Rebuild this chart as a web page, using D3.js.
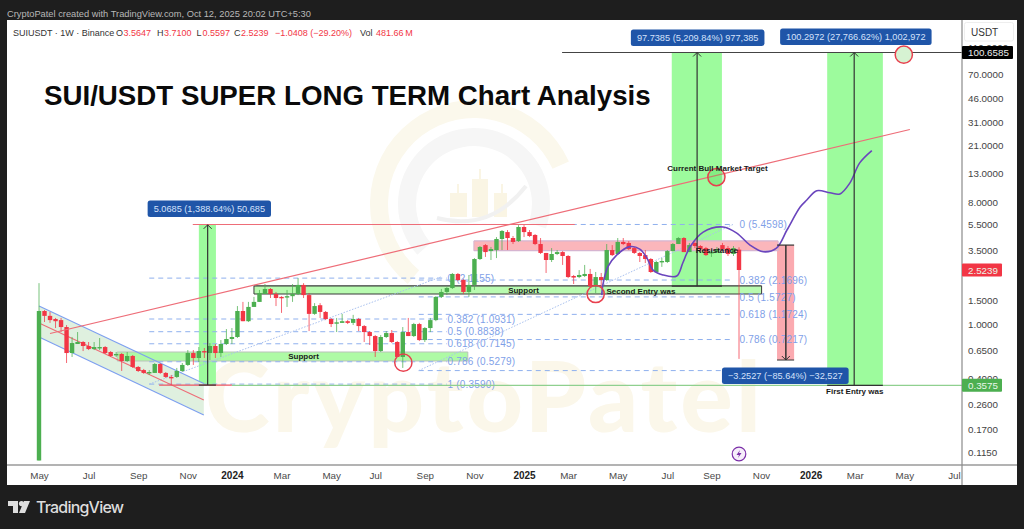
<!DOCTYPE html>
<html><head><meta charset="utf-8">
<script src="https://cdnjs.cloudflare.com/ajax/libs/d3/7.8.5/d3.min.js"></script>
<style>html,body{margin:0;padding:0;background:#1e1e1e;overflow:hidden}svg{display:block}text{font-family:"Liberation Sans",Arial,sans-serif}</style>
</head><body><svg id="c" width="1024" height="529"></svg>
<script>
// ---- OHLC read from the weekly candles (bar 0 = week of 1 May 2023) ----
const opens=[0.10,1.26,1.16,1.10,1.08,0.960,0.618,0.720,0.745,0.696,0.661,0.673,0.684,0.629,0.598,0.608,0.540,0.588,0.488,0.463,0.441,0.441,0.513,0.441,0.412,0.412,0.456,0.505,0.618,0.568,0.639,0.618,0.696,0.618,0.720,0.784,0.811,1.26,1.06,1.35,1.47,1.68,1.83,1.68,1.60,1.60,1.62,1.68,1.96,1.65,1.20,1.39,1.24,1.10,1.02,1.03,1.06,1.03,1.10,0.976,0.882,0.824,0.639,0.811,0.867,0.745,0.578,0.882,0.824,1.01,0.770,0.944,1.08,1.60,1.74,1.86,2.36,2.13,1.74,1.96,3.04,3.85,3.48,3.54,4.27,4.80,4.34,4.12,5.23,4.80,4.57,3.92,3.37,2.99,3.31,3.42,3.20,2.28,2.24,2.28,2.36,1.92,2.24,2.13,3.54,3.31,4.06,3.99,3.66,3.37,3.25,3.04,2.44,2.89,2.89,3.48,3.92,4.34,3.42,3.99,3.79,3.66,3.37,3.42,3.85,3.66,3.31,3.5647];
const highs=[2.02,1.28,1.24,1.12,1.12,0.993,0.811,0.882,0.757,0.745,0.745,0.797,0.696,0.639,0.629,0.618,0.629,0.598,0.496,0.472,0.463,0.522,0.522,0.448,0.426,0.480,0.522,0.650,0.650,0.684,0.673,0.732,0.720,0.770,0.928,0.944,1.37,1.47,1.47,1.60,1.80,1.99,1.86,1.74,1.62,1.80,1.99,2.20,2.02,1.71,1.44,1.44,1.26,1.12,1.12,1.20,1.08,1.18,1.12,0.993,0.897,0.838,0.838,0.897,0.913,0.757,0.960,1.12,1.03,1.03,0.960,1.12,1.62,1.83,1.89,2.40,2.40,2.17,2.32,3.09,3.79,3.92,3.73,4.41,4.97,4.97,4.49,5.40,5.40,4.97,4.64,4.34,3.37,3.66,3.54,3.48,3.25,2.32,2.52,2.75,2.57,2.44,2.40,3.92,3.85,4.34,4.34,4.12,3.73,3.42,3.54,3.09,2.94,3.09,3.54,3.99,4.41,4.41,3.99,4.20,3.85,3.73,3.54,3.73,3.99,3.79,3.79,3.71];
const lows=[0.10,1.045,1.03,0.944,0.882,0.522,0.578,0.720,0.639,0.650,0.650,0.650,0.608,0.578,0.578,0.456,0.531,0.480,0.448,0.434,0.426,0.441,0.434,0.405,0.359,0.405,0.448,0.496,0.505,0.531,0.568,0.549,0.568,0.578,0.708,0.720,0.797,1.06,1.045,1.35,1.47,1.68,1.57,1.37,1.22,1.35,1.47,1.65,1.57,0.897,1.18,1.12,1.08,0.960,0.882,1.03,1.01,0.993,0.897,0.745,0.708,0.578,0.629,0.797,0.732,0.578,0.480,0.824,0.811,0.757,0.745,0.882,1.06,1.57,1.65,1.83,2.09,1.68,1.60,1.80,2.99,3.15,2.99,3.09,3.54,3.54,3.92,4.06,4.41,4.41,3.85,3.31,2.40,2.89,3.25,2.75,2.20,1.99,2.20,2.24,1.89,1.71,1.89,2.09,3.20,3.25,3.85,3.54,3.31,2.89,2.84,2.40,2.40,2.66,2.84,3.48,3.92,3.42,3.42,3.66,3.42,3.20,3.15,3.37,3.54,3.20,3.20,0.5597];
const closes=[1.26,1.16,1.08,1.06,0.960,0.618,0.732,0.745,0.696,0.661,0.684,0.684,0.618,0.588,0.608,0.540,0.588,0.488,0.456,0.441,0.448,0.513,0.441,0.412,0.405,0.456,0.505,0.618,0.568,0.639,0.624,0.696,0.618,0.720,0.784,0.811,1.26,1.06,1.35,1.47,1.71,1.83,1.68,1.57,1.57,1.62,1.68,1.96,1.65,1.20,1.37,1.24,1.10,1.01,1.04,1.06,1.03,1.10,0.976,0.882,0.824,0.639,0.811,0.867,0.745,0.578,0.882,0.824,1.01,0.770,0.944,1.08,1.60,1.74,1.86,2.36,2.13,1.74,1.96,3.04,3.73,3.42,3.60,4.27,4.89,4.34,4.06,5.23,4.80,4.49,3.92,3.37,2.99,3.31,3.42,3.20,2.24,2.22,2.32,2.36,1.92,2.24,2.13,3.54,3.25,4.06,3.92,3.60,3.37,3.20,3.04,2.44,2.89,2.94,3.48,3.92,4.34,3.42,3.85,3.79,3.60,3.25,3.42,3.60,3.60,3.31,3.66,2.5239];

// ---- axes ----
const xTickBars=[0,9,18,27,35,44,53,61,70,79,88,96,105,114,122,131,140,148,157,166];
const xTickLabels=["May","Jul","Sep","Nov","2024","Mar","May","Jul","Sep","Nov","2025","Mar","May","Jul","Sep","Nov","2026","Mar","May","Jul"];
const yTicks=[110,70,46,31,21,13,8,5.5,3.5,2.5,1.5,1,0.65,0.4,0.26,0.17,0.115];

// ---- drawings, in [bar, price] ----
const trendLine=[[2,0.86],[158,27.3]];
const channelUpper=[[0,1.37],[29.9,0.368]];
const channelMid=[[0,1.03],[29.9,0.279]];
const channelLower=[[0,0.81],[29.9,0.216]];
const forecastCurve=[[102.1,1.65],[102.3,1.96],[103.2,2.66],[104.8,3.25],[107.2,3.75],[109,3.6],[110.3,3.09],[111.4,2.52],[113.2,2.32],[115.7,2.28],[116.8,2.84],[118.1,3.73],[120.5,4.8],[124.1,5.23],[126.6,4.72],[129,3.85],[131.4,3.44],[133.8,3.66],[135.7,4.97],[138.1,7.34],[139.3,8.26],[141.1,9.67],[143.5,9.35],[145.3,9.15],[147.1,11],[148.9,15.5],[151.1,19.1]];
const fibLeft=[["0 (2.1155)",2.20],["0.382 (1.0931)",1.10],["0.5 (0.8838)",0.887],["0.618 (0.7145)",0.723],["0.786 (0.5279)",0.533],["1 (0.3590)",0.365]];
const fibLeftBars=[20,74];
const fibRight=[["0 (5.4598)",5.46],["0.382 (2.1696)",2.13],["0.5 (1.5727)",1.60],["0.618 (1.1724)",1.19],["0.786 (0.7217)",0.777],["",0.459]];
const fibRightBars=[68.9,125.9];
const dottedLines=[[[20,0.365],[73,2.25]],[[68.9,0.459],[125.9,5.46]]];
const measureZones=[
 {bars:[29,32.1],mid:30.6,lo:0.359,hi:5.4275,color:"#9dfb9d",down:false},
 {bars:[114.8,123.9],mid:119.4,lo:1.92,hi:100.66,color:"#9dfb9d",down:false},
 {bars:[143,153.1],mid:147.9,lo:0.3575,hi:100.66,color:"#9dfb9d",down:false},
 {bars:[133.9,137],mid:135.5,lo:0.549,hi:3.85,color:"#fbaab0",down:true}];
const measureLabels=[["5.0685 (1,388.64%) 50,685",30.9,7.15],["97.7385 (5,209.84%) 977,385",119.5,130],["100.2972 (27,766.62%) 1,002,972",148.2,132],["\u22123.2527 (\u221285.64%) \u221232,527",135.4,0.422]];
const boxes=[
 {bars:[14.2,77.8],hi:0.629,lo:0.540,fill:"#aefaa5",stroke:"#b9c2b9"},
 {bars:[39,131.1],hi:1.93,lo:1.68,fill:"#b8fbb0",stroke:"#3a3a3a"},
 {bars:[78.9,134.1],hi:4.13,lo:3.50,fill:"#fbb6bb",stroke:"#d6b4d0"}];
const circles=[[66.1,0.525,"none"],[101,1.68,"none"],[122.9,12.2,"rgba(60,200,60,.25)"],[156.9,97,"#d6f2d2"]];
const notes=[["Support",48,0.582],["Support",87.9,1.80],["Second Entry was",109.2,1.77],["Resistance",123,3.55],["Current Bull Market Target",123.1,14.1],["First Entry was",148,0.322]];
const hLines=[[[27.9,97.2],5.46,"#ee6d78"],[[21.8,35],0.359,"#ee5560"],[[35,167.5],0.3575,"#8fd08f"],[[94.9,167.5],100.66,"#444"]];
const priceTags=[[100.6585,"#000"],[2.5239,"#f23645"],[0.3575,"#4caf50"]];

const svg=d3.select("#c");
const x=d3.scaleLinear().domain([0,127]).range([39,739]);
const y=d3.scaleLog().domain([0.1,100]).range([460.5,52.9]);
const P=a=>[x(a[0]),y(a[1])];
const line=d3.line().x(d=>x(d[0])).y(d=>y(d[1]));

// frame
svg.append("rect").attr("x",7).attr("y",20).attr("width",1010).attr("height",465).attr("fill","#fff");
const clip=svg.append("clipPath").attr("id","plot").append("rect").attr("x",7).attr("y",20).attr("width",955).attr("height",445);
const plot=svg.append("g").attr("clip-path","url(#plot)");

// watermark
const wm=plot.append("g");
const arc=d3.arc();
wm.append("path").attr("transform","translate(474,204)").attr("fill","#fbf8ec")
  .attr("d",arc({innerRadius:86,outerRadius:104,startAngle:-2.45,endAngle:1.15}));
wm.append("path").attr("transform","translate(474,204)").attr("fill","#f6f6f6")
  .attr("d",arc({innerRadius:58,outerRadius:76,startAngle:-2.3,endAngle:1.9}));
wm.append("g").attr("fill","#faf5e4").selectAll("rect").data([[450,193,17,24],[472,179,16,38],[494,193,13,24],[457,184,2,10],[479,169,2,11],[501,184,2,10]]).join("rect")
  .attr("x",d=>d[0]).attr("y",d=>d[1]).attr("width",d=>d[2]).attr("height",d=>d[3]);
wm.append("path").attr("d","M437 218 Q490 232 526 186").attr("fill","none").attr("stroke","#f1f1f1").attr("stroke-width",4);
wm.append("text").attr("x",205).attr("y",432).text("CryptoPatel").attr("fill","#fbf7ea")
  .style("font-family","Lato,Roboto,sans-serif").style("font-weight",900).style("font-size","98px").attr("textLength",556);

// zones and boxes under candles
plot.append("g").selectAll("rect").data(measureZones).join("rect")
  .attr("x",d=>x(d.bars[0])).attr("width",d=>x(d.bars[1])-x(d.bars[0]))
  .attr("y",d=>y(d.hi)).attr("height",d=>y(d.lo)-y(d.hi)).attr("fill",d=>d.color);
plot.append("path").attr("fill","#dff0df")
  .attr("d",d3.line()([P(channelUpper[0]),P(channelUpper[1]),P(channelLower[1]),P(channelLower[0])])+"Z");
const bx=plot.append("g").selectAll("g").data(boxes).join("g");
bx.append("rect").attr("x",d=>x(d.bars[0])).attr("width",d=>x(d.bars[1])-x(d.bars[0]))
  .attr("y",d=>y(d.hi)).attr("height",d=>y(d.lo)-y(d.hi)).attr("fill",d=>d.fill);
bx.each(function(d){const g=d3.select(this);[d.hi,d.lo].forEach(p=>g.append("line").attr("x1",x(d.bars[0])).attr("x2",x(d.bars[1])).attr("y1",y(p)).attr("y2",y(p)).attr("stroke",d.stroke).attr("stroke-width",1.2));
 g.append("line").attr("x1",x(d.bars[0])).attr("x2",x(d.bars[0])).attr("y1",y(d.hi)).attr("y2",y(d.lo)).attr("stroke",d.stroke);
 g.append("line").attr("x1",x(d.bars[1])).attr("x2",x(d.bars[1])).attr("y1",y(d.hi)).attr("y2",y(d.lo)).attr("stroke",d.stroke);});

// fib levels
const fibCol="#8fb0ee";
function fib(levels,bars,labelBar){
  const g=plot.append("g");
  g.selectAll("line").data(levels).join("line").attr("x1",x(bars[0])).attr("x2",x(bars[1]))
   .attr("y1",d=>y(d[1])).attr("y2",d=>y(d[1])).attr("stroke",fibCol).attr("stroke-width",1).attr("stroke-dasharray","5 4");
  g.selectAll("text").data(levels).join("text").attr("x",x(labelBar)).attr("y",d=>y(d[1])).attr("dy","0.36em")
   .text(d=>d[0]).attr("fill","#7f9fe8").style("font-size","10px").style("letter-spacing","0.2px");
}
fib(fibLeft,fibLeftBars,74.1);
fib(fibRight,fibRightBars,127.1);
plot.append("g").selectAll("path").data(dottedLines).join("path").attr("d",d=>line(d)).attr("fill","none")
  .attr("stroke","#a9c1ef").attr("stroke-width",1).attr("stroke-dasharray","1.5 1.5");

// channel lines
[[channelUpper,"#7d9ff0"],[channelLower,"#7d9ff0"],[channelMid,"#ee6d78"]].forEach(l=>
  plot.append("path").attr("d",line(l[0])).attr("fill","none").attr("stroke",l[1]).attr("stroke-width",1.1));

// candles
const bars=d3.range(closes.length);
const candles=plot.append("g").selectAll("g").data(bars).join("g")
  .attr("fill",i=>closes[i]>=opens[i]?"#4caf50":"#f23645").attr("stroke",i=>closes[i]>=opens[i]?"#4caf50":"#f23645");
candles.append("line").attr("x1",i=>x(i)).attr("x2",i=>x(i)).attr("y1",i=>y(highs[i])).attr("y2",i=>y(lows[i])).attr("stroke-width",1).attr("stroke-opacity",.75);
candles.append("rect").attr("x",i=>x(i)-2.2).attr("width",4.4).attr("stroke","none")
  .attr("y",i=>y(Math.max(opens[i],closes[i]))).attr("height",i=>Math.max(1.4,Math.abs(y(opens[i])-y(closes[i]))));

// horizontal lines, trendline, curve
plot.append("g").selectAll("line").data(hLines).join("line").attr("x1",d=>x(d[0][0])).attr("x2",d=>x(d[0][1]))
  .attr("y1",d=>y(d[1])).attr("y2",d=>y(d[1])).attr("stroke",d=>d[2]).attr("stroke-width",1.1);
plot.append("path").attr("d",line(trendLine)).attr("fill","none").attr("stroke","#ee6d78").attr("stroke-width",1.2);
plot.append("path").attr("d",line.curve(d3.curveCatmullRom)(forecastCurve)).attr("fill","none").attr("stroke","#6a45bd").attr("stroke-width",1.6);
line.curve(d3.curveLinear);

// measure arrows and caps
const mz=plot.append("g").selectAll("g").data(measureZones).join("g").attr("stroke","#333").attr("fill","none");
mz.append("line").attr("x1",d=>x(d.mid)).attr("x2",d=>x(d.mid)).attr("y1",d=>y(d.hi)).attr("y2",d=>y(d.lo)).attr("stroke-width",d=>d.down?1.5:1.2);
mz.append("line").attr("x1",d=>x(d.bars[0])).attr("x2",d=>x(d.bars[1])).attr("y1",d=>y(d.down?d.hi:d.lo)).attr("y2",d=>y(d.down?d.hi:d.lo)).attr("stroke-width",1.2);
mz.filter(d=>d.down).append("line").attr("x1",d=>x(d.bars[0])).attr("x2",d=>x(d.bars[1])).attr("y1",d=>y(d.lo)).attr("y2",d=>y(d.lo));
mz.append("path").attr("d",d=>{const a=x(d.mid),b=y(d.down?d.lo:d.hi),s=d.down?-1:1;return `M${a-4} ${b+4*s}L${a} ${b}L${a+4} ${b+4*s}`;});

// circles
plot.append("g").selectAll("circle").data(circles).join("circle").attr("cx",d=>x(d[0])).attr("cy",d=>y(d[1]))
  .attr("r",8.6).attr("fill",d=>d[2]).attr("stroke","#e8404e").attr("stroke-width",1.5);

// notes
plot.append("g").selectAll("text").data(notes).join("text").attr("x",d=>x(d[1])).attr("y",d=>y(d[2])).attr("dy","0.36em")
  .attr("text-anchor","middle").text(d=>d[0]).attr("fill","#1a1a1a").style("font-size","8px").style("font-weight",700);

// measure labels
const ml=plot.append("g").selectAll("g").data(measureLabels).join("g").attr("transform",d=>`translate(${x(d[1])},${y(d[2])})`);
ml.append("text").attr("text-anchor","middle").attr("dy","0.36em").text(d=>d[0]).attr("fill","#d5e2fb").style("font-size","9.2px");
ml.each(function(){const g=d3.select(this),w=g.select("text").node().getComputedTextLength()+12;
  g.insert("rect","text").attr("x",-w/2).attr("y",-8).attr("width",w).attr("height",16.5).attr("rx",2.5).attr("fill","#1f55a8");});

// title & lightning icon
svg.append("text").attr("x",44).attr("y",105).text("SUI/USDT SUPER LONG TERM Chart Analysis").attr("fill","#0a0a0a")
  .style("font-weight",700).style("font-size","27.7px");
const ic=plot.append("g").attr("transform",`translate(${x(127)},454)`);
ic.append("circle").attr("r",6.8).attr("fill","#f6eefa").attr("stroke","#7b2fa8").attr("stroke-width",1.2);
ic.append("path").attr("d","M1 -4L-2.5 1H0L-1 4L2.5 -1H0Z").attr("fill","#7b2fa8");

// axes
const xAxis=svg.append("g").attr("transform","translate(0,465)").call(d3.axisBottom(x).tickValues(xTickBars).tickSize(0).tickPadding(7).tickFormat((d,i)=>xTickLabels[i]));
xAxis.select(".domain").remove();
xAxis.selectAll("text").style("font-family","'Liberation Sans',sans-serif").style("font-size","9.8px").attr("fill","#4a4a4a")
  .filter((d,i)=>/^20/.test(xTickLabels[i])).style("font-weight",700).style("font-size","10px").attr("fill","#222");
const yAxis=svg.append("g").attr("transform","translate(962,0)").call(d3.axisRight(y).tickValues(yTicks).tickSize(0).tickPadding(6).tickFormat(d3.format(".4f")));
yAxis.select(".domain").remove();
yAxis.selectAll("text").style("font-family","'Liberation Sans',sans-serif").style("font-size","9.8px").attr("fill","#444");
svg.append("line").attr("x1",7).attr("x2",1017).attr("y1",465).attr("y2",465).attr("stroke","#9a9a9a").attr("stroke-width",1.4);
svg.append("line").attr("x1",962).attr("x2",962).attr("y1",20).attr("y2",485).attr("stroke","#8a8a8a").attr("stroke-width",1.2);
svg.append("rect").attr("x",964.5).attr("y",22.5).attr("width",49).attr("height",18.5).attr("rx",2).attr("fill","#fff").attr("stroke","#eee");
svg.append("text").attr("x",971).attr("y",36).text("USDT").attr("fill","#333").style("font-size","10px");

// price tags
const tg=svg.append("g").selectAll("g").data(priceTags).join("g").attr("transform",d=>`translate(962,${y(d[0])})`);
tg.append("text").attr("x",6).attr("dy","0.36em").text(d=>d3.format(".4f")(d[0])).attr("fill",d=>d[1]=="#000"?"#eee":"#e9f6e9").style("font-size","9.8px");
tg.each(function(d){const w=d[1]=="#000"?51:40;d3.select(this).insert("rect","text").attr("x",0).attr("y",-6.5).attr("width",w).attr("height",13).attr("rx",1).attr("fill",d[1]);});

// top header
svg.append("text").attr("x",7).attr("y",16.5).text("CryptoPatel created with TradingView.com, Oct 12, 2025 20:02 UTC+5:30").attr("fill","#b8b8b8").style("font-size","9.3px");
const hdr=[["SUIUSDT \u00b7 1W \u00b7 Binance",13,"#333"],["O",116,"#333"],["3.5647",123.5,"#f23645"],["H",157,"#333"],["3.7100",164,"#f23645"],["L",196.5,"#333"],["0.5597",202.5,"#f23645"],["C",234,"#333"],["2.5239",241,"#f23645"],["\u22121.0408 (\u221229.20%)",275,"#f23645"],["Vol",360,"#333"],["481.66\u2009M",376,"#f23645"]];
svg.append("g").selectAll("text").data(hdr).join("text").attr("x",d=>d[1]).attr("y",36).text(d=>d[0]).attr("fill",d=>d[2]).style("font-size","9px");

// TradingView footer
const tv=svg.append("g").attr("transform","translate(8,501)").attr("fill","#ddd");
tv.append("path").attr("d","M0 0H10V12H5V5H0Z");
tv.append("circle").attr("cx",13.5).attr("cy",2.6).attr("r",2.6);
tv.append("path").attr("d","M17 12L22 0 H16 L11 12Z");
svg.append("text").attr("x",36).attr("y",513).text("TradingView").attr("fill","#ddd").style("font-size","16px").style("font-family","Inter,sans-serif").style("font-weight",500).attr("textLength",88);
</script></body></html>
